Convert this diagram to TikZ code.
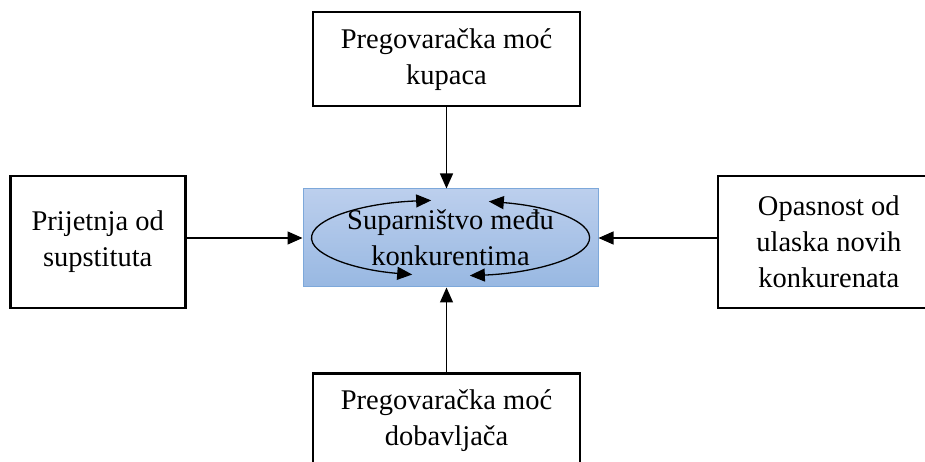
\documentclass[tikz,border=0pt]{standalone}
\usepackage{fontspec}
\setmainfont{Liberation Serif}
\usetikzlibrary{positioning,arrows.meta}

\definecolor{rivaltop}{RGB}{188,207,237}
\definecolor{rivalbot}{RGB}{152,184,226}
\definecolor{rivalline}{RGB}{125,168,218}

\begin{document}
\begin{tikzpicture}[x=1pt, y=1pt, node distance=81pt,
		force/.style={draw, line width=2.6pt, align=center, inner sep=0pt,
			font=\fontsize{28.5}{36}\selectfont},
		rivalry/.style={draw=rivalline, line width=1pt, top color=rivaltop, bottom color=rivalbot,
			minimum width=295pt, minimum height=98pt, align=center, inner sep=0pt,
			font=\fontsize{28.5}{36}\selectfont},
		link/.style={-{Triangle[length=15pt,width=13pt]}, line width=1.3pt},
		ring/.style={{Triangle[length=15pt,width=13pt]}-{Triangle[length=15pt,width=13pt]}, line width=1.3pt}]
		\useasboundingbox (0,0) rectangle (925,462);
		
		\node [rivalry] (rival) at (450.5,224) {Suparništvo među\\konkurentima};
		\node [force, minimum width=267pt, minimum height=94pt, above=81pt of rival, xshift=-4pt] (buyers) {Pregovaračka moć\\kupaca};
		\node [force, minimum width=267pt, minimum height=94pt, below=85pt of rival, xshift=-4pt] (suppliers) {Pregovaračka moć\\dobavljača};
		\node [force, minimum width=175pt, minimum height=132pt, left=116pt of rival, yshift=-4pt] (substitutes) {Prijetnja od\\supstituta};
		\node [force, minimum width=222pt, minimum height=132pt, right=118pt of rival, yshift=-4pt] (entrants) {Opasnost od\\ulaska novih\\konkurenata};
		
		\draw[link]
		(buyers.south) -- (buyers.south |- rival.north);
		\draw[link]
		(suppliers.north) -- (suppliers.north |- rival.south);
		\draw[link]
		(substitutes.east |- rival.west) -- (rival.west);
		\draw[link]
		(entrants.west |- rival.east) -- (rival.east);
		
		% rivalry cycle inside the centre box
		\draw[ring]
		([shift={(98:139pt and 38pt)}]rival.center) arc [start angle=98, end angle=254, x radius=139pt, y radius=38pt];
		\draw[ring]
		([shift={(74:139pt and 38pt)}]rival.center) arc [start angle=74, end angle=-82, x radius=139pt, y radius=38pt];
		
	\end{tikzpicture}
\end{document}
